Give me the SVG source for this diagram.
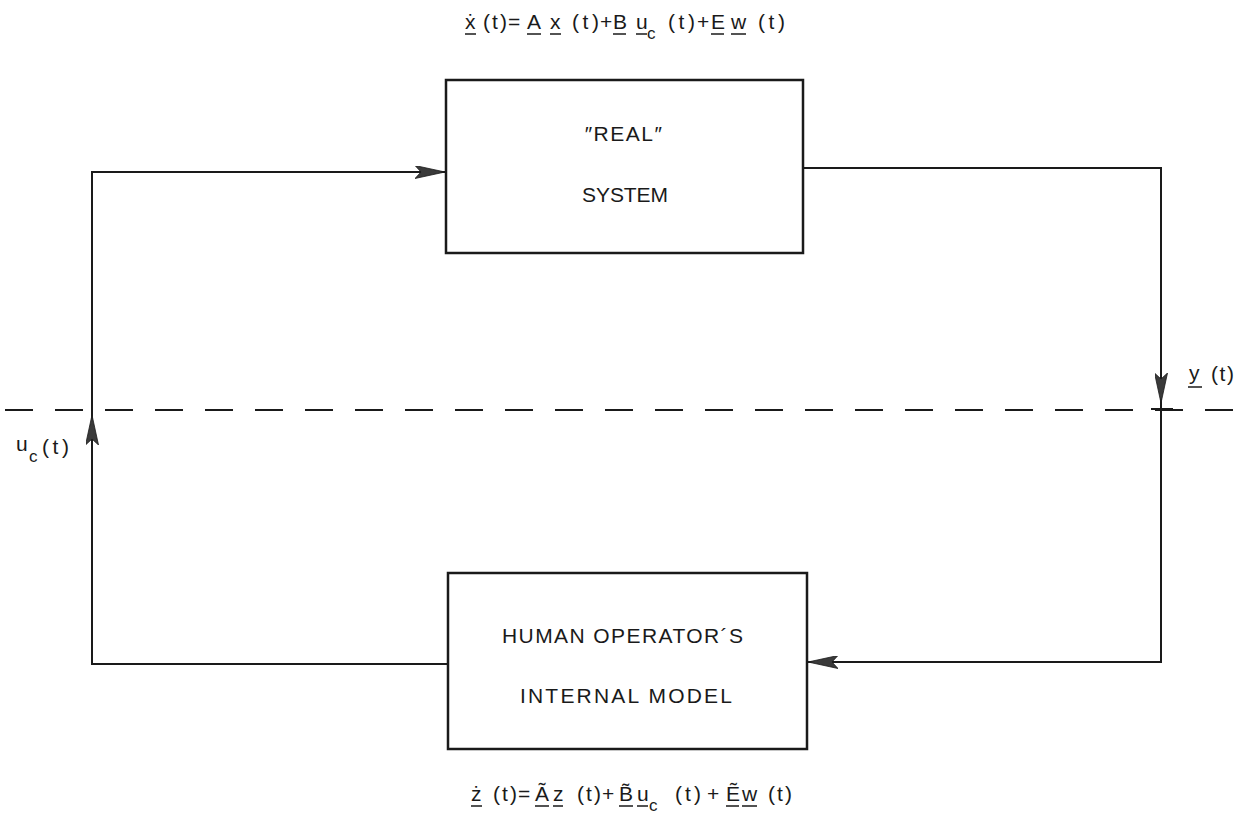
<svg xmlns="http://www.w3.org/2000/svg" width="1240" height="817" viewBox="0 0 1240 817">
  <style>
    .box { fill: #ffffff; stroke: #1a1a1a; stroke-width: 2.5; }
    .wire { fill: none; stroke: #1a1a1a; stroke-width: 2; }
    .split { fill: none; stroke: #1a1a1a; stroke-width: 2; stroke-dasharray: 28 22; }
    .ul { stroke: #1a1a1a; stroke-width: 1.5; }
    .lbl { font-family: "Liberation Sans", "DejaVu Sans", Arial, sans-serif; font-size: 21px; fill: #1a1a1a; }
    .eq { font-family: "Liberation Sans", "DejaVu Sans", Arial, sans-serif; font-size: 21px; fill: #1a1a1a; }
    .sub { font-size: 17px; }
  </style>
  <defs>
    <marker id="arrow" viewBox="0 0 30 13" refX="30" refY="6.5" markerWidth="30" markerHeight="13" markerUnits="userSpaceOnUse" orient="auto">
      <path d="M0,0 L30,6.5 L0,13 L6,6.5 Z" fill="#3a3a3a" stroke="#1a1a1a" stroke-width="0.8"/>
    </marker>
  </defs>

  <!-- boundary between the plant and the operator's model -->
  <g id="boundary">
    <line class="split" x1="5" y1="410" x2="1240" y2="410"/>
    <line class="wire" x1="1151" y1="409" x2="1173" y2="409"/>
  </g>

  <!-- signal paths -->
  <g id="connectors">
    <path class="wire" d="M448,664 H92 V415" marker-end="url(#arrow)"/>
    <path class="wire" d="M92,416 V172 H445" marker-end="url(#arrow)"/>
    <path class="wire" d="M803,168 H1161 V403" marker-end="url(#arrow)"/>
    <path class="wire" d="M1161,402 V662 H808" marker-end="url(#arrow)"/>
  </g>

  <g id="real-system">
    <rect class="box" x="446" y="80" width="357" height="173"/>
    <text class="lbl" x="624" y="141" text-anchor="middle" letter-spacing="1.5">″REAL″</text>
    <text class="lbl" x="582" y="202" textLength="86" lengthAdjust="spacing">SYSTEM</text>
  </g>

  <g id="internal-model">
    <rect class="box" x="448" y="573" width="359" height="176"/>
    <text class="lbl" x="502" y="643" textLength="241" lengthAdjust="spacing">HUMAN OPERATOR´S</text>
    <text class="lbl" x="520" y="703" textLength="212" lengthAdjust="spacing">INTERNAL MODEL</text>
  </g>

  <!-- signal labels -->
  <g id="label-y">
    <text class="eq" x="1189" y="380">y</text>
    <text class="eq" x="1211" y="381" textLength="23" lengthAdjust="spacing">(t)</text>
    <line class="ul" x1="1188" y1="387" x2="1202" y2="387"/>
  </g>
  <g id="label-uc">
    <text class="eq" x="16" y="451">u</text>
    <text class="eq sub" x="29" y="462">c</text>
    <text class="eq" x="42" y="454" textLength="27" lengthAdjust="spacing">(t)</text>
  </g>

  <!-- plant dynamics -->
  <g id="eq-plant">
    <text class="eq" x="465" y="29">ẋ</text>
    <text class="eq" x="483" y="29" textLength="24" lengthAdjust="spacing">(t)</text>
    <text class="eq" x="508" y="29">=</text>
    <text class="eq" x="527" y="29">A</text>
    <text class="eq" x="550" y="29">x</text>
    <text class="eq" x="572" y="29" textLength="27" lengthAdjust="spacing">(t)</text>
    <text class="eq" x="600" y="29">+</text>
    <text class="eq" x="613" y="29">B</text>
    <text class="eq" x="636" y="29">u</text>
    <text class="eq sub" x="647" y="39">c</text>
    <text class="eq" x="668" y="29" textLength="27" lengthAdjust="spacing">(t)</text>
    <text class="eq" x="697" y="29">+</text>
    <text class="eq" x="711" y="29">E</text>
    <text class="eq" x="731" y="29">w</text>
    <text class="eq" x="758" y="29" textLength="27" lengthAdjust="spacing">(t)</text>
    <line class="ul" x1="465" y1="34" x2="476" y2="34"/>
    <line class="ul" x1="527" y1="34" x2="541" y2="34"/>
    <line class="ul" x1="550" y1="34" x2="561" y2="34"/>
    <line class="ul" x1="613" y1="34" x2="626" y2="34"/>
    <line class="ul" x1="636" y1="34" x2="647" y2="34"/>
    <line class="ul" x1="711" y1="34" x2="724" y2="34"/>
    <line class="ul" x1="731" y1="34" x2="746" y2="34"/>
  </g>

  <!-- internal model dynamics -->
  <g id="eq-model">
    <text class="eq" x="471" y="801">ż</text>
    <text class="eq" x="493" y="801" textLength="24" lengthAdjust="spacing">(t)</text>
    <text class="eq" x="518" y="801">=</text>
    <text class="eq" x="535" y="801">Ã</text>
    <text class="eq" x="553" y="801">z</text>
    <text class="eq" x="577" y="801" textLength="24" lengthAdjust="spacing">(t)</text>
    <text class="eq" x="602" y="801">+</text>
    <text class="eq" x="619" y="801">B̃</text>
    <text class="eq" x="637" y="801">u</text>
    <text class="eq sub" x="649" y="811">c</text>
    <text class="eq" x="675" y="801" textLength="26" lengthAdjust="spacing">(t)</text>
    <text class="eq" x="707" y="801">+</text>
    <text class="eq" x="726" y="801">Ẽ</text>
    <text class="eq" x="742" y="801">w</text>
    <text class="eq" x="768" y="801" textLength="24" lengthAdjust="spacing">(t)</text>
    <line class="ul" x1="471" y1="806" x2="482" y2="806"/>
    <line class="ul" x1="535" y1="806" x2="549" y2="806"/>
    <line class="ul" x1="553" y1="806" x2="563" y2="806"/>
    <line class="ul" x1="619" y1="806" x2="633" y2="806"/>
    <line class="ul" x1="637" y1="806" x2="648" y2="806"/>
    <line class="ul" x1="726" y1="806" x2="739" y2="806"/>
    <line class="ul" x1="742" y1="806" x2="757" y2="806"/>
  </g>
</svg>
